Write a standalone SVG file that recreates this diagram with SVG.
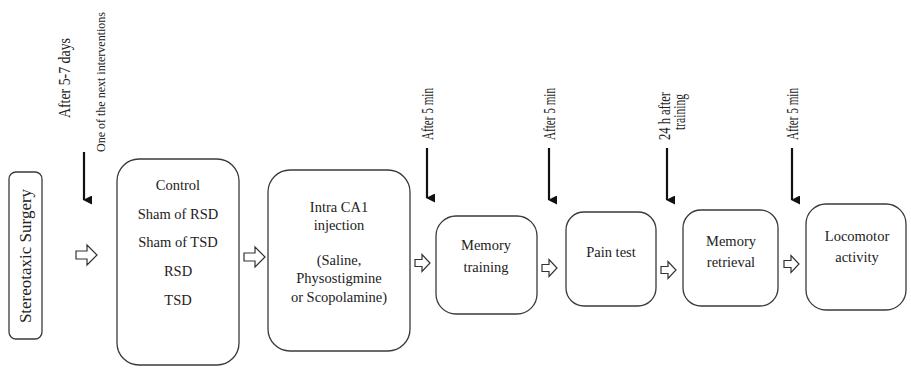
<svg xmlns="http://www.w3.org/2000/svg" width="911" height="368" viewBox="0 0 911 368">
<defs>
<style>
.box{fill:#fff;stroke:#3a3a3a;stroke-width:1.3}
.t{font-family:"Liberation Serif","Times New Roman",serif;font-size:14.5px;fill:#222;text-anchor:middle}
.v{font-family:"Liberation Serif","Times New Roman",serif;font-size:16px;fill:#222}
.ha{fill:#fff;stroke:#333;stroke-width:1.2;stroke-linejoin:miter}
.va{stroke:#111;stroke-width:2.2;fill:none}
</style>
<marker id="ah" markerWidth="9" markerHeight="9" refX="4.5" refY="8" orient="auto" markerUnits="userSpaceOnUse" viewBox="0 0 9 9">
<path d="M0,0 L9,0 L4.5,9 Z" fill="#111"/>
</marker>
</defs>
<rect width="911" height="368" fill="#fff"/>

<g id="stereotaxic">
<rect class="box" x="9" y="172" width="33" height="167" rx="7"/>
<text class="t" style="font-size:17px" transform="translate(31,256) rotate(-90)">Stereotaxic Surgery</text>
</g>

<g id="groups">
<rect class="box" x="117" y="159" width="122" height="206" rx="22"/>
<text class="t" x="178" y="190">Control</text>
<text class="t" x="178" y="219">Sham of RSD</text>
<text class="t" x="178" y="247">Sham of TSD</text>
<text class="t" x="178" y="276">RSD</text>
<text class="t" x="178" y="305">TSD</text>
</g>

<g id="injection">
<rect class="box" x="268" y="170" width="142" height="181" rx="22"/>
<text class="t" x="339" y="212">Intra CA1</text>
<text class="t" x="339" y="230">injection</text>
<text class="t" x="339" y="265">(Saline,</text>
<text class="t" x="339" y="283">Physostigmine</text>
<text class="t" x="339" y="302">or Scopolamine)</text>
</g>

<g id="training">
<rect class="box" x="436" y="216" width="101" height="98" rx="20"/>
<text class="t" x="486" y="250">Memory</text>
<text class="t" x="486" y="272">training</text>
</g>

<g id="pain">
<rect class="box" x="566" y="212" width="90" height="94" rx="18"/>
<text class="t" x="611" y="257">Pain test</text>
</g>

<g id="retrieval">
<rect class="box" x="683" y="210" width="95" height="96" rx="18"/>
<text class="t" x="731" y="246">Memory</text>
<text class="t" x="731" y="267">retrieval</text>
</g>

<g id="locomotor">
<rect class="box" x="806" y="204" width="100" height="106" rx="20"/>
<text class="t" x="857" y="241">Locomotor</text>
<text class="t" x="857" y="262">activity</text>
</g>

<g id="labels">
<text class="v" transform="translate(70,118) rotate(-90)" textLength="80" lengthAdjust="spacingAndGlyphs">After 5-7 days</text>
<text class="v" style="font-size:13px" transform="translate(105,152) rotate(-90)" textLength="140" lengthAdjust="spacingAndGlyphs">One of the next interventions</text>
<text class="v" transform="translate(433,140) rotate(-90)" textLength="52" lengthAdjust="spacingAndGlyphs">After 5 min</text>
<text class="v" transform="translate(555,140) rotate(-90)" textLength="52" lengthAdjust="spacingAndGlyphs">After 5 min</text>
<text class="v" transform="translate(670,140) rotate(-90)" textLength="48" lengthAdjust="spacingAndGlyphs">24 h after</text>
<text class="v" transform="translate(685,130) rotate(-90)" textLength="36" lengthAdjust="spacingAndGlyphs">training</text>
<text class="v" transform="translate(798,140) rotate(-90)" textLength="52" lengthAdjust="spacingAndGlyphs">After 5 min</text>
</g>

<g id="connectors">
<line class="va" x1="84" y1="152" x2="84" y2="200" marker-end="url(#ah)"/>
<line class="va" x1="427" y1="148" x2="427" y2="198" marker-end="url(#ah)"/>
<line class="va" x1="549" y1="148" x2="549" y2="200" marker-end="url(#ah)"/>
<line class="va" x1="667" y1="148" x2="667" y2="200" marker-end="url(#ah)"/>
<line class="va" x1="792" y1="148" x2="792" y2="200" marker-end="url(#ah)"/>
<path class="ha" d="M76,251 h11 v-6 l10,10 l-10,10 v-6 h-11 z"/>
<path class="ha" d="M244,253 h11 v-6 l10,10 l-10,10 v-6 h-11 z"/>
<path class="ha" d="M415,259.5 h7 v-5 l8,8.5 l-8,8.5 v-5 h-7 z"/>
<path class="ha" d="M542,264.5 h7 v-5 l8,8.5 l-8,8.5 v-5 h-7 z"/>
<path class="ha" d="M661,266.5 h7 v-5 l8,8.5 l-8,8.5 v-5 h-7 z"/>
<path class="ha" d="M784,260.5 h7 v-5 l8,8.5 l-8,8.5 v-5 h-7 z"/>
</g>
</svg>
